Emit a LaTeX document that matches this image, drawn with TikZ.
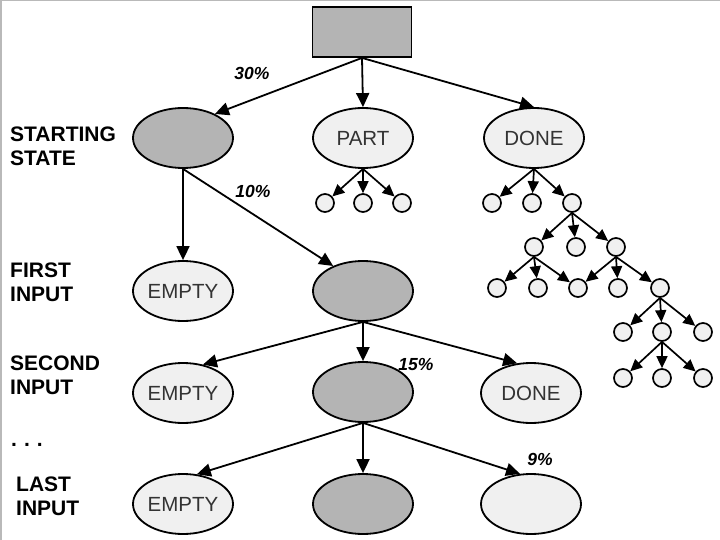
\documentclass[tikz,border=0pt]{standalone}
\usepackage{fontspec}
\setmainfont{Liberation Sans}
\usetikzlibrary{shapes.geometric,arrows.meta}
\definecolor{darkfill}{RGB}{180,180,180}
\definecolor{lightfill}{RGB}{240,240,240}
\begin{document}
\begin{tikzpicture}[x=1pt,y=-1pt,
  state/.style={ellipse,draw,line width=1.8pt,minimum width=100pt,minimum height=60pt,inner sep=0pt,font=\fontsize{20.5}{24}\selectfont,text=black!80},
  dstate/.style={state,fill=darkfill},
  lstate/.style={state,fill=lightfill},
  leaf/.style={circle,draw,line width=1.7pt,fill=lightfill,minimum size=18pt,inner sep=0pt},
  arr/.style={line width=1.8pt,-{Triangle[length=14pt,width=13pt]}},
  tarr/.style={line width=1.7pt,-{Triangle[length=12pt,width=11pt]}},
  lab/.style={anchor=north west,inner sep=0pt,align=left,font=\fontsize{21}{24}\selectfont\bfseries},
  pct/.style={font=\fontsize{17.5}{20}\selectfont\bfseries\itshape,inner sep=0pt}
]
\useasboundingbox (0,0) rectangle (720,540);
\fill[white] (0,0) rectangle (720,540);
\draw[gray!55,line width=1.5pt] (0.75,540) -- (0.75,0.75) -- (720,0.75);

% labels
\node[lab] (l0) at (10,127) {STARTING\\STATE};
\node[lab] (l1) at (10,263) {FIRST\\INPUT};
\node[lab] (l2) at (10,356) {SECOND\\INPUT};
\node[anchor=base west,inner sep=0pt,font=\fontsize{21}{24}\selectfont\bfseries] (ldots) at (11,446) {.\,\,.\,\,.};
\node[lab] (l3) at (16,477) {LAST\\INPUT};

% top
\node[draw,line width=1.8pt,fill=darkfill,minimum width=99pt,minimum height=50pt,inner sep=0pt] (top) at (362,32) {};

% row 1
\node[dstate] (s0) at (183,138) {};
\node[lstate] (part) at (363,138) {PART};
\node[lstate] (done1) at (534,138) {DONE};

% row 2
\node[lstate] (e1) at (183,291) {EMPTY};
\node[dstate] (g1) at (363,291) {};

% row 3
\node[lstate] (e2) at (183,393) {EMPTY};
\node[dstate] (g2) at (363,392) {};
\node[lstate] (d2) at (531,393) {DONE};

% row 4
\node[lstate] (e3) at (183,504) {EMPTY};
\node[dstate] (g3) at (363,504) {};
\node[lstate] (l3n) at (531,504) {};

% percentages
\node[pct] (p30) at (252,73) {30\%};
\node[pct] (p10) at (253,191) {10\%};
\node[pct] (p15) at (416,365) {15\%};
\node[pct] (p9) at (540,459) {9\%};

% leaves under PART
\node[leaf] (pa) at (325,203) {};
\node[leaf] (pb) at (363,203) {};
\node[leaf] (pc) at (402,203) {};

% DONE tree
\node[leaf] (d1a) at (492,203) {};
\node[leaf] (d1b) at (532,203) {};
\node[leaf] (d1c) at (572,203) {};
\node[leaf] (d2a) at (534,247) {};
\node[leaf] (d2b) at (576,247) {};
\node[leaf] (d2c) at (616,247) {};
\node[leaf] (d3a) at (497,288) {};
\node[leaf] (d3b) at (538,288) {};
\node[leaf] (d3c) at (578,288) {};
\node[leaf] (d3d) at (618,288) {};
\node[leaf] (d3e) at (660,288) {};
\node[leaf] (d4a) at (623,332) {};
\node[leaf] (d4b) at (662,332) {};
\node[leaf] (d4c) at (703,332) {};
\node[leaf] (d5a) at (623,378) {};
\node[leaf] (d5b) at (662,378) {};
\node[leaf] (d5c) at (703,378) {};

% main arrows
\draw[arr] (top.south) -- (s0.37);
\draw[arr] (top.south) -- (part.north);
\draw[arr] (top.south) -- (done1.north);
\draw[arr] (s0.south) -- (e1.north);
\draw[arr] (s0.south) -- (g1.140);
\draw[arr] (g1.south) -- (e2.55);
\draw[arr] (g1.south) -- (g2.north);
\draw[arr] (g1.south) -- (d2.115);
\draw[arr] (g2.south) -- (e3.65);
\draw[arr] (g2.south) -- (g3.north);
\draw[arr] (g2.south) -- (l3n.110);

% tree arrows
\foreach \c in {pa,pb,pc} \draw[tarr] (part.south) -- (\c);
\foreach \c in {d1a,d1b,d1c} \draw[tarr] (done1.south) -- (\c);
\foreach \c in {d2a,d2b,d2c} \draw[tarr] (d1c.south) -- (\c);
\foreach \c in {d3a,d3b,d3c} \draw[tarr] (d2a.south) -- (\c);
\foreach \c in {d3c,d3d,d3e} \draw[tarr] (d2c.south) -- (\c);
\foreach \c in {d4a,d4b,d4c} \draw[tarr] (d3e.south) -- (\c);
\foreach \c in {d5a,d5b,d5c} \draw[tarr] (d4b.south) -- (\c);
\end{tikzpicture}
\end{document}
